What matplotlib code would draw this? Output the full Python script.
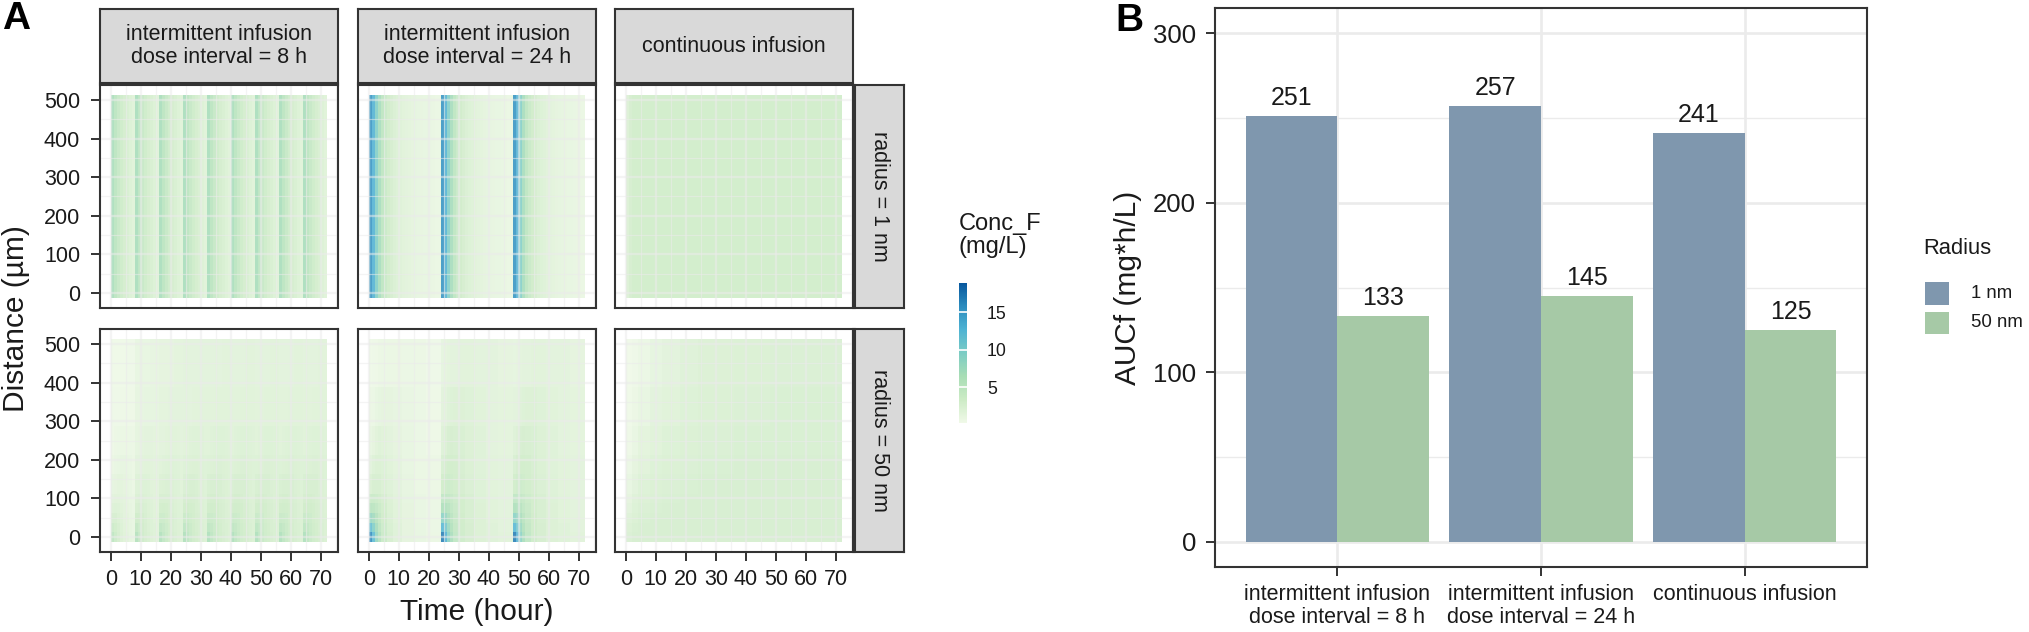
import numpy as np
import matplotlib
matplotlib.use("Agg")
import matplotlib.pyplot as plt
from matplotlib.colors import LinearSegmentedColormap, Normalize
from matplotlib.patches import Rectangle
from matplotlib.cm import ScalarMappable

plt.rcParams['font.family'] = ['Liberation Sans', 'DejaVu Sans']

W, H, DPI = 2029, 632, 100

# ----------------------------- data -----------------------------
regimens = ["intermittent infusion\ndose interval = 8 h",
            "intermittent infusion\ndose interval = 24 h",
            "continuous infusion"]
radius_strips = ["radius = 1 nm", "radius = 50 nm"]
radius_levels = ["1 nm", "50 nm"]

# Panel B: AUCf (mg*h/L)
auc_1nm = [251, 257, 241]
auc_50nm = [133, 145, 125]

# Panel A: dosing schedule (h)
dose_times_8h = [0, 8, 16, 24, 32, 40, 48, 56, 64]
dose_times_24h = [0, 24, 48]

# hours-since-dose bin edges
since_edges_8h_1nm = [0, 1, 2, 3, 4, 5, 6, 7, 8]
since_edges_24h_1nm = list(range(0, 25))
since_edges_8h_50nm = [0, 1, 2, 3, 4, 5, 6, 7, 8]
since_edges_24h_50nm = [0, 1, 2, 3, 4, 6, 8, 11, 15, 19, 24]
cont_time_edges_1nm = [0, 1, 2, 4, 72]
cont_time_edges_50nm = [0, 2, 4, 8, 12, 18, 24, 36, 48, 60, 72]

# distance bin edges (um)
dist_edges_1nm = [-12.5, 512.5]
dist_edges_50nm = [-12.5, 12.5, 37.5, 62.5, 87.5, 112.5, 162.5, 212.5, 287.5, 387.5, 512.5]

# radius 1 nm: concentration uniform over distance (mg/L), vs hours since dose
conc_1nm_8h = [6.8, 5.4, 4.4, 3.7, 3.1, 2.7, 2.3, 2.0]
conc_1nm_24h = [15.5, 13.0, 9.5, 7.0, 5.2, 4.2, 3.5, 3.0, 2.6, 2.3, 2.1, 1.9,
                1.75, 1.6, 1.5, 1.4, 1.3, 1.25, 1.2, 1.15, 1.1, 1.05, 1.0, 0.95]
conc_1nm_cont = [2.4, 3.0, 3.3, 3.4]

# radius 50 nm: rows = distance bins (bottom -> top), cols = time bins
conc_50nm_8h = [
    [6.5, 5.2, 4.3, 3.7, 3.3, 3.0, 2.7, 2.5],
    [5.2, 4.7, 4.1, 3.6, 3.2, 2.9, 2.7, 2.5],
    [4.2, 4.1, 3.8, 3.4, 3.1, 2.9, 2.6, 2.5],
    [3.5, 3.6, 3.5, 3.3, 3.0, 2.8, 2.6, 2.4],
    [3.1, 3.2, 3.2, 3.1, 2.9, 2.7, 2.5, 2.4],
    [2.7, 2.8, 2.9, 2.9, 2.8, 2.6, 2.5, 2.3],
    [2.3, 2.4, 2.5, 2.6, 2.6, 2.5, 2.4, 2.3],
    [2.0, 2.1, 2.2, 2.3, 2.3, 2.3, 2.2, 2.1],
    [1.9, 1.9, 1.9, 2.0, 2.0, 2.0, 2.0, 2.0],
    [1.8, 1.8, 1.8, 1.8, 1.8, 1.9, 1.9, 1.9],
]
dose_shift_50nm_8h = [-1.3, -0.6, -0.3, -0.1, 0.0, 0.0, 0.0, 0.0, 0.0]

conc_50nm_24h = [
    [17.0, 13.0, 9.0, 6.8, 5.0, 3.7, 3.0, 2.4, 2.1, 1.9],
    [12.5, 10.5, 8.0, 6.2, 4.7, 3.6, 3.0, 2.4, 2.1, 1.8],
    [9.0, 8.2, 6.8, 5.5, 4.4, 3.5, 2.9, 2.4, 2.0, 1.8],
    [6.5, 6.3, 5.7, 4.9, 4.2, 3.4, 2.9, 2.4, 2.0, 1.8],
    [5.0, 5.0, 4.8, 4.4, 3.9, 3.3, 2.8, 2.3, 2.0, 1.8],
    [3.4, 3.7, 3.8, 3.7, 3.4, 3.0, 2.6, 2.2, 1.9, 1.7],
    [2.7, 3.1, 3.4, 3.4, 3.2, 2.9, 2.5, 2.1, 1.9, 1.7],
    [2.1, 2.4, 2.8, 3.0, 2.9, 2.7, 2.4, 2.1, 1.8, 1.6],
    [1.7, 1.8, 2.1, 2.3, 2.4, 2.4, 2.2, 2.0, 1.8, 1.6],
    [1.4, 1.5, 1.6, 1.7, 1.8, 1.9, 1.9, 1.8, 1.7, 1.5],
]
dose_shift_50nm_24h = [-0.9, 0.0, 0.0]

conc_50nm_cont = [
    [2.6, 2.8, 2.9, 2.9, 2.9, 2.9, 2.9, 2.9, 2.9, 2.9],
    [2.4, 2.7, 2.8, 2.9, 2.9, 2.9, 2.9, 2.9, 2.9, 2.9],
    [2.1, 2.5, 2.7, 2.8, 2.8, 2.9, 2.9, 2.9, 2.9, 2.9],
    [1.8, 2.3, 2.6, 2.7, 2.8, 2.8, 2.8, 2.9, 2.9, 2.9],
    [1.5, 2.1, 2.4, 2.6, 2.7, 2.8, 2.8, 2.8, 2.8, 2.8],
    [1.2, 1.8, 2.2, 2.5, 2.6, 2.7, 2.8, 2.8, 2.8, 2.8],
    [0.9, 1.5, 1.9, 2.3, 2.5, 2.6, 2.7, 2.8, 2.8, 2.8],
    [0.7, 1.1, 1.6, 2.0, 2.3, 2.5, 2.6, 2.7, 2.7, 2.7],
    [0.5, 0.8, 1.2, 1.7, 2.0, 2.3, 2.5, 2.6, 2.7, 2.7],
    [0.4, 0.6, 0.9, 1.4, 1.8, 2.1, 2.4, 2.5, 2.6, 2.6],
]

conc_range = (0.2, 18.9)
conc_ticks = [5, 10, 15]
time_ticks = [0, 10, 20, 30, 40, 50, 60, 70]
dist_ticks = [0, 100, 200, 300, 400, 500]

# ----------------------------- styling -----------------------------
gnbu = ['#f0f9e8', '#ccebc5', '#a8ddb5', '#7bccc4', '#4eb3d3', '#2b8cbe', '#08589e']
cmap = LinearSegmentedColormap.from_list('gnbu7', gnbu)
norm = Normalize(*conc_range)
TILE_ALPHA = 0.85
GRID = '#ebebeb'
DARK = '#333333'
TXT = '#1a1a1a'
col_blue = '#7f97ae'
col_green = '#a6c9a6'


def fr(x0, y0, x1, y1):
    return [x0 / W, 1 - y1 / H, (x1 - x0) / W, (y1 - y0) / H]


def px2pt(p):
    return p * 72.0 / DPI


fig = plt.figure(figsize=(W / DPI, H / DPI), dpi=DPI)
fig.patch.set_facecolor('white')


def tiles(ax, t_edges, d_edges, Z):
    Z = np.clip(np.atleast_2d(np.asarray(Z, dtype=float)), conc_range[0], None)
    ax.pcolormesh(np.asarray(t_edges, float), np.asarray(d_edges, float), Z,
                  cmap=cmap, norm=norm, alpha=TILE_ALPHA, shading='flat',
                  linewidth=0, antialiased=False, zorder=1)


def draw_panel(ax, r, c):
    if r == 0:
        if c == 0:
            for t0 in dose_times_8h:
                tiles(ax, np.add(since_edges_8h_1nm, t0), dist_edges_1nm, [conc_1nm_8h])
        elif c == 1:
            for t0 in dose_times_24h:
                tiles(ax, np.add(since_edges_24h_1nm, t0), dist_edges_1nm, [conc_1nm_24h])
        else:
            tiles(ax, cont_time_edges_1nm, dist_edges_1nm, [conc_1nm_cont])
    else:
        if c == 0:
            for t0, s in zip(dose_times_8h, dose_shift_50nm_8h):
                tiles(ax, np.add(since_edges_8h_50nm, t0), dist_edges_50nm,
                      np.asarray(conc_50nm_8h) + s)
        elif c == 1:
            for t0, s in zip(dose_times_24h, dose_shift_50nm_24h):
                tiles(ax, np.add(since_edges_24h_50nm, t0), dist_edges_50nm,
                      np.asarray(conc_50nm_24h) + s)
        else:
            tiles(ax, cont_time_edges_50nm, dist_edges_50nm, conc_50nm_cont)


col_x = [100, 358, 615]
panel_w = 238
row_y = [(85, 308), (329, 552)]
strip_top = (9, 83)
rstrip_x = (855, 904)

for r in range(2):
    for c in range(3):
        x0 = col_x[c]
        y0, y1 = row_y[r]
        ax = fig.add_axes(fr(x0, y0, x0 + panel_w, y1))
        ax.set_facecolor('white')
        ax.set_xlim(-3.6, 75.6)
        ax.set_ylim(-38.75, 538.75)
        # grid
        for xv in np.arange(0, 76, 10):
            ax.axvline(xv, color=GRID, lw=1.7, zorder=2, alpha=0.55)
        for xv in np.arange(5, 76, 10):
            ax.axvline(xv, color=GRID, lw=0.85, zorder=2, alpha=0.55)
        for yv in np.arange(0, 501, 100):
            ax.axhline(yv, color=GRID, lw=1.7, zorder=2, alpha=0.55)
        for yv in np.arange(50, 540, 100):
            ax.axhline(yv, color=GRID, lw=0.85, zorder=2, alpha=0.55)
        draw_panel(ax, r, c)
        ax.set_xticks(time_ticks)
        ax.set_yticks(dist_ticks)
        ax.tick_params(axis='both', length=px2pt(9), width=1.4, color=DARK,
                       labelsize=15.5, labelcolor=TXT)
        ax.tick_params(axis='x', pad=px2pt(8))
        ax.tick_params(axis='y', pad=px2pt(11))
        if r == 0:
            ax.tick_params(axis='x', length=0, labelbottom=False)
        if c > 0:
            ax.tick_params(axis='y', length=0, labelleft=False)
        for s in ax.spines.values():
            s.set_color(DARK)
            s.set_linewidth(1.5)
            s.set_zorder(5)
        # top strip
        if r == 0:
            sax = fig.add_axes(fr(x0, strip_top[0], x0 + panel_w, strip_top[1]))
            sax.set_facecolor('#d9d9d9')
            sax.set_xticks([]); sax.set_yticks([])
            for s in sax.spines.values():
                s.set_color(DARK); s.set_linewidth(1.5)
            sax.text(0.5, 0.5, regimens[c], ha='center', va='center',
                     fontsize=15.5, color=TXT, linespacing=1.15,
                     transform=sax.transAxes)
        # right strip
        if c == 2:
            rax = fig.add_axes(fr(rstrip_x[0], y0, rstrip_x[1], y1))
            rax.set_facecolor('#d9d9d9')
            rax.set_xticks([]); rax.set_yticks([])
            for s in rax.spines.values():
                s.set_color(DARK); s.set_linewidth(1.5)
            rax.text(0.5, 0.5, radius_strips[r], ha='center', va='center',
                     rotation=270, fontsize=15.5, color=TXT,
                     transform=rax.transAxes)

fig.text(16 / W, 1 - 318.5 / H, "Distance (\u00b5m)", rotation=90, ha='center',
         va='center', fontsize=21.5, color=TXT)
fig.text(477 / W, 1 - 612 / H, "Time (hour)", ha='center', va='center',
         fontsize=21.5, color=TXT)
fig.text(16 / W, 1 - 19 / H, "A", ha='center', va='center', fontsize=28,
         fontweight='bold', color='black')

# colorbar
cax = fig.add_axes(fr(959, 283, 967, 423))
sm = ScalarMappable(norm=norm, cmap=cmap)
cb = fig.colorbar(sm, cax=cax, ticks=conc_ticks)
cb.outline.set_visible(False)
cax.tick_params(length=0, pad=px2pt(20), labelsize=12.7, labelcolor=TXT)
for tv in conc_ticks:
    cax.axhline(tv, color='white', lw=1.2)
fig.text(959 / W, 1 - 213 / H, "Conc_F\n(mg/L)", ha='left', va='top',
         fontsize=17, color=TXT, linespacing=1.05)

# ----------------------------- panel B -----------------------------
axb = fig.add_axes(fr(1215, 8, 1867, 567))
axb.set_facecolor('white')
xpos = np.arange(1, len(regimens) + 1)
bw = 0.45
axb.set_xlim(0.4, 3.6)
axb.set_ylim(-15, 315)
for yv in [0, 100, 200, 300]:
    axb.axhline(yv, color=GRID, lw=1.9, zorder=0)
for yv in [50, 150, 250]:
    axb.axhline(yv, color=GRID, lw=0.95, zorder=0)
for xv in xpos:
    axb.axvline(xv, color=GRID, lw=1.9, zorder=0)
b1 = axb.bar(xpos - bw / 2, auc_1nm, width=bw, color=col_blue, zorder=2,
             label=radius_levels[0])
b2 = axb.bar(xpos + bw / 2, auc_50nm, width=bw, color=col_green, zorder=2,
             label=radius_levels[1])
for bars, vals in ((b1, auc_1nm), (b2, auc_50nm)):
    for rect, v in zip(bars, vals):
        axb.annotate(f"{v}", (rect.get_x() + rect.get_width() / 2, v),
                     xytext=(0, px2pt(11)), textcoords='offset points',
                     ha='center', va='baseline', fontsize=18, color=TXT)
axb.set_xticks(xpos)
axb.set_xticklabels(regimens, linespacing=1.1)
axb.set_yticks([0, 100, 200, 300])
axb.tick_params(axis='both', length=px2pt(9), width=1.4, color=DARK, labelcolor=TXT)
axb.tick_params(axis='x', labelsize=15.5, pad=px2pt(8))
axb.tick_params(axis='y', labelsize=18.5, pad=px2pt(10))
for s in axb.spines.values():
    s.set_color(DARK)
    s.set_linewidth(1.5)
fig.text(1128 / W, 1 - 287.5 / H, "AUCf (mg*h/L)", rotation=90, ha='center',
         va='center', fontsize=21.5, color=TXT)
fig.text(1129 / W, 1 - 21 / H, "B", ha='center', va='center', fontsize=28,
         fontweight='bold', color='black')

# legend for panel B
fig.text(1923 / W, 1 - 249 / H, "Radius", ha='left', va='center', fontsize=15.8,
         color=TXT)
for (ky0, ky1), lab, colr in (((282, 305), radius_levels[0], col_blue),
                              ((312, 334), radius_levels[1], col_green)):
    fig.patches.append(Rectangle((1925 / W, 1 - ky1 / H), 24 / W, (ky1 - ky0) / H,
                                 transform=fig.transFigure, facecolor=colr,
                                 edgecolor='none'))
    fig.text(1971 / W, 1 - (ky0 + ky1) / 2 / H, lab, ha='left', va='center',
             fontsize=13.4, color=TXT)

fig.savefig("out.png", dpi=DPI, facecolor='white')
